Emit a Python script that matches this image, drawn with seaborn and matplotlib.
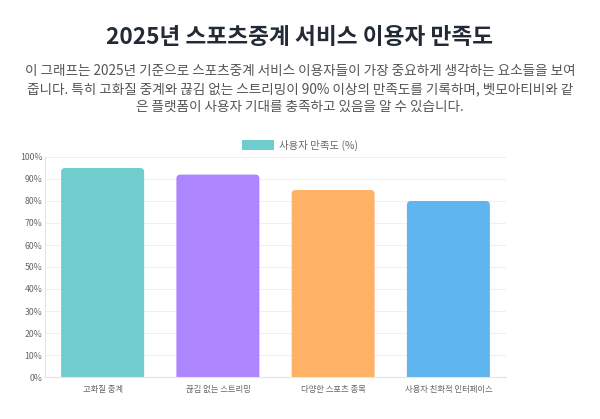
import matplotlib
matplotlib.use('Agg')
import matplotlib.pyplot as plt
from matplotlib.patches import FancyBboxPatch, Patch
from matplotlib.ticker import PercentFormatter
import seaborn as sns
import pandas as pd

# DATA ---------------------------------------------------------------------------
categories = ['고화질 중계', '끊김 없는 스트리밍', '다양한 스포츠 종목', '사용자 친화적 인터페이스']
satisfaction = [95, 92, 85, 80]
bar_colors = ['#6FCDCD', '#AD85FF', '#FFB266', '#5EB5EF']
series_label = '사용자 만족도 (%)'

title = '2025년 스포츠중계 서비스 이용자 만족도'
subtitle_lines = [
    '이 그래프는 2025년 기준으로 스포츠중계 서비스 이용자들이 가장 중요하게 생각하는 요소들을 보여',
    '줍니다. 특히 고화질 중계와 끊김 없는 스트리밍이 90% 이상의 만족도를 기록하며, 벳모아티비와 같',
    '은 플랫폼이 사용자 기대를 충족하고 있음을 알 수 있습니다.',
]

df = pd.DataFrame({'category': categories, 'value': satisfaction})

# STYLE --------------------------------------------------------------------------
sns.set_style('white')
plt.rcParams['font.family'] = ['Noto Sans CJK KR', 'DejaVu Sans']

fig = plt.figure(figsize=(6, 4.19), dpi=100)
ax = fig.add_axes([45 / 600, 1 - 377 / 419, 461 / 600, 220 / 419])

sns.barplot(data=df, x='category', y='value', hue='category', palette=bar_colors,
            width=0.72, legend=False, ax=ax, saturation=1)

# swap plain bars for rounded ones (bottom corners hidden below zero)
px_x = 4 / 461
px_y = 100 / 220
for patch in list(ax.patches):
    x, w, h = patch.get_x(), patch.get_width(), patch.get_height()
    color = patch.get_facecolor()
    patch.remove()
    rounded = FancyBboxPatch((x, -3), w, h + 3,
                             boxstyle=f'round,pad=0,rounding_size={4 * px_x}',
                             mutation_aspect=px_y / px_x,
                             facecolor=color, edgecolor='none', zorder=2)
    ax.add_patch(rounded)

ax.set_xlim(-0.5, 3.5)
ax.set_ylim(0, 100)
ax.set_yticks(range(0, 101, 10))
ax.yaxis.set_major_formatter(PercentFormatter(decimals=0))
ax.set_xlabel('')
ax.set_ylabel('')
ax.grid(axis='y', color='#f0f0f0', linewidth=0.8, zorder=0)
ax.set_axisbelow(True)
ax.tick_params(axis='y', labelsize=6.3, labelcolor='#666666', length=0, pad=2)
ax.tick_params(axis='x', labelsize=6, labelcolor='#666666', length=0, pad=6)
for side in ['top', 'right']:
    ax.spines[side].set_visible(False)
for side in ['left', 'bottom']:
    ax.spines[side].set_color('#e5e5e5')
    ax.spines[side].set_linewidth(0.8)

# legend (only first colour, like the original)
handle = Patch(facecolor=bar_colors[0], edgecolor='none')
fig.legend([handle], [series_label], loc='center', bbox_to_anchor=(0.5, 1 - 145 / 419),
           frameon=False, fontsize=7.5, labelcolor='#666666', handlelength=3.0,
           handleheight=1.0, handletextpad=0.5)

# TITLES -------------------------------------------------------------------------
fig.text(0.5, 1 - 38 / 419, title, ha='center', va='center', fontsize=16.3,
         fontweight='bold', color='#222a35')
for i, line in enumerate(subtitle_lines):
    fig.text(0.5, 1 - (71 + i * 18) / 419, line, ha='center', va='center',
             fontsize=9.8, color='#555555')

fig.savefig('out.png', dpi=100, facecolor='white')
